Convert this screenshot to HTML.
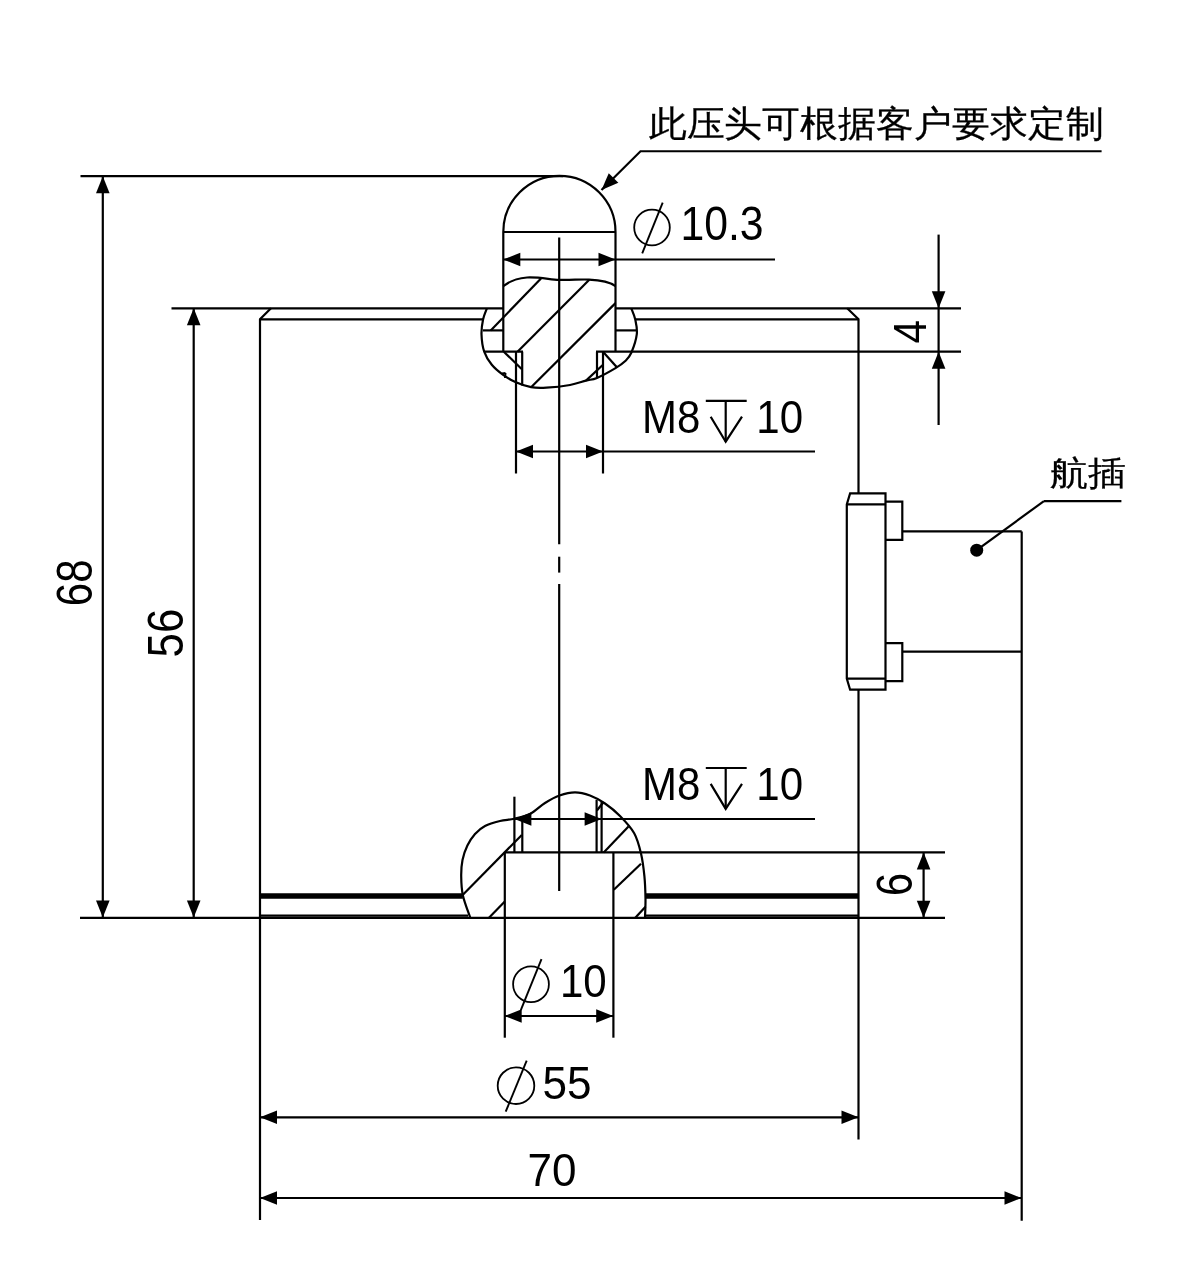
<!DOCTYPE html>
<html><head><meta charset="utf-8"><style>
html,body{margin:0;padding:0;background:#fff;width:1200px;height:1282px;overflow:hidden}
svg{display:block;filter:grayscale(1) blur(0.35px)}
text{font-family:"Liberation Sans",sans-serif;fill:#000;stroke:#fff;stroke-width:1.2px;paint-order:stroke}
text.cjk{stroke:#000;stroke-width:0.3px}
</style></head><body>
<svg width="1200" height="1282" viewBox="0 0 1200 1282">
<rect width="1200" height="1282" fill="#fff"/>
<g stroke="#000" fill="#000" stroke-linecap="butt">
<line x1="80.5" y1="176.2" x2="563" y2="176.2" stroke-width="2.2"/>
<line x1="171.5" y1="308.3" x2="503.3" y2="308.3" stroke-width="2.2"/>
<line x1="615.5" y1="308.3" x2="961" y2="308.3" stroke-width="2.2"/>
<line x1="260" y1="319.3" x2="483" y2="319.3" stroke-width="2.2"/>
<line x1="635.2" y1="319.3" x2="859" y2="319.3" stroke-width="2.2"/>
<path d="M271,308.3 L260,319.3 V1220" fill="none" stroke-width="2.2"/>
<path d="M847.2,308.3 L858.5,319.3 V493" fill="none" stroke-width="2.2"/>
<line x1="858.5" y1="689.3" x2="858.5" y2="1139.6" stroke-width="2.2"/>
<line x1="483" y1="330.4" x2="503.3" y2="330.4" stroke-width="2.2"/>
<line x1="615.5" y1="330.4" x2="636.5" y2="330.4" stroke-width="2.2"/>
<line x1="484" y1="351.7" x2="523" y2="351.7" stroke-width="2.2"/>
<line x1="596" y1="351.7" x2="961" y2="351.7" stroke-width="2.2"/>
<line x1="503.3" y1="232" x2="503.3" y2="351.7" stroke-width="2.2"/>
<line x1="615.5" y1="232" x2="615.5" y2="351.7" stroke-width="2.2"/>
<path d="M503.3,232 A56.1,56.1 0 0 1 615.5,232" fill="none" stroke-width="2.2"/>
<line x1="503.3" y1="232" x2="615.5" y2="232" stroke-width="2.2"/>
<line x1="559.2" y1="237.5" x2="559.2" y2="544.2" stroke-width="2.2"/>
<line x1="559.2" y1="556.7" x2="559.2" y2="572.6" stroke-width="2.2"/>
<line x1="559.2" y1="584" x2="559.2" y2="891" stroke-width="2.2"/>
<line x1="503.3" y1="259.5" x2="775" y2="259.5" stroke-width="2.2"/>
<polygon points="503.30,259.50 520.30,252.70 520.30,266.30" stroke="none"/>
<polygon points="615.50,259.50 598.50,266.30 598.50,252.70" stroke="none"/>
<path d="M503.3,286.2 C510,281 518,278 527,277.5 C540,277 550,279.5 559,279.8 C570,280.2 580,279.2 589,279.6 C600,280 610,282 615.5,286.2" fill="none" stroke-width="2.2"/>
<line x1="516" y1="351.7" x2="516" y2="473.5" stroke-width="2.2"/>
<line x1="522.2" y1="351.7" x2="522.2" y2="385.5" stroke-width="2.2"/>
<line x1="597" y1="351.7" x2="597" y2="378" stroke-width="2.2"/>
<line x1="603" y1="351.7" x2="603" y2="473.5" stroke-width="2.2"/>
<line x1="503.8" y1="351.7" x2="521.9" y2="369.2" stroke-width="2.2"/>
<line x1="603" y1="351.7" x2="617.1" y2="367.5" stroke-width="2.2"/>
<line x1="490.7" y1="330.4" x2="541" y2="278.6" stroke-width="2.2"/>
<line x1="517.5" y1="351.7" x2="589.3" y2="279.7" stroke-width="2.2"/>
<line x1="531.1" y1="387.2" x2="615.5" y2="303.1" stroke-width="2.2"/>
<line x1="586" y1="380.6" x2="603" y2="364.8" stroke-width="2.2"/>
<path d="M486.9,308.3 C486.27,310.13 484.00,314.98 483.1,319.3 C482.20,323.62 481.32,328.80 481.5,334.2 C481.68,339.60 482.48,346.60 484.2,351.7 C485.92,356.80 488.70,360.98 491.8,364.8 C494.90,368.62 498.78,371.68 502.8,374.6 C506.82,377.52 511.18,380.20 515.9,382.3 C520.62,384.40 526.02,386.30 531.1,387.2 C536.18,388.10 539.92,388.07 546.4,387.7 C552.88,387.33 563.40,386.18 570,385 C576.60,383.82 581.50,381.78 586,380.6 C590.50,379.42 592.08,379.98 597,377.9 C601.92,375.82 610.78,370.92 615.5,368.1 C620.22,365.28 622.67,363.55 625.3,361 C627.93,358.45 629.38,357.27 631.3,352.8 C633.22,348.33 636.15,339.78 636.8,334.2 C637.45,328.62 636.12,323.62 635.2,319.3 C634.28,314.98 631.95,310.13 631.3,308.3" fill="none" stroke-width="2.2"/>
<line x1="502" y1="373.5" x2="505.5" y2="373" stroke-width="2"/>
<line x1="505.5" y1="373" x2="505" y2="378" stroke-width="2"/>
<line x1="516" y1="451.5" x2="815" y2="451.5" stroke-width="2.2"/>
<polygon points="516.00,451.50 533.00,444.70 533.00,458.30" stroke="none"/>
<polygon points="603.00,451.50 586.00,458.30 586.00,444.70" stroke="none"/>
<line x1="938.6" y1="234.6" x2="938.6" y2="425" stroke-width="2.2"/>
<polygon points="938.60,308.30 931.80,291.30 945.40,291.30" stroke="none"/>
<polygon points="938.60,351.70 945.40,368.70 931.80,368.70" stroke="none"/>
<path d="M601.5,190 L640.5,151.25 H1101.6" fill="none" stroke-width="2.2"/>
<polygon points="601.50,190.00 608.77,173.19 618.35,182.84" stroke="none"/>
<line x1="102.8" y1="176.2" x2="102.8" y2="917.6" stroke-width="2.2"/>
<polygon points="102.80,176.20 109.60,193.20 96.00,193.20" stroke="none"/>
<polygon points="102.80,917.60 96.00,900.60 109.60,900.60" stroke="none"/>
<line x1="193.7" y1="308.3" x2="193.7" y2="917.6" stroke-width="2.2"/>
<polygon points="193.70,308.30 200.50,325.30 186.90,325.30" stroke="none"/>
<polygon points="193.70,917.60 186.90,900.60 200.50,900.60" stroke="none"/>
<line x1="80" y1="917.8" x2="945" y2="917.8" stroke-width="2.2"/>
<line x1="260" y1="896" x2="462.8" y2="896" stroke-width="5.5"/>
<line x1="645.4" y1="896" x2="858.5" y2="896" stroke-width="5.5"/>
<line x1="260" y1="915.6" x2="468" y2="915.6" stroke-width="2.2"/>
<line x1="645.3" y1="915.6" x2="858.5" y2="915.6" stroke-width="2.2"/>
<line x1="504.8" y1="852.4" x2="504.8" y2="1037.7" stroke-width="2.2"/>
<line x1="613.4" y1="852.4" x2="613.4" y2="1037.7" stroke-width="2.2"/>
<line x1="504.8" y1="852.4" x2="945" y2="852.4" stroke-width="2.2"/>
<line x1="514.4" y1="796.7" x2="514.4" y2="852.4" stroke-width="2.2"/>
<line x1="522.3" y1="820" x2="522.3" y2="852.4" stroke-width="2.2"/>
<line x1="596.6" y1="799.8" x2="596.6" y2="852.4" stroke-width="2.2"/>
<line x1="601.6" y1="802" x2="601.6" y2="852.4" stroke-width="2.2"/>
<line x1="514.4" y1="819" x2="815" y2="819" stroke-width="2.2"/>
<polygon points="514.40,819.00 531.40,812.20 531.40,825.80" stroke="none"/>
<polygon points="601.60,819.00 584.60,825.80 584.60,812.20" stroke="none"/>
<path d="M470.3,917.8 C469.07,914.07 464.42,902.33 462.9,895.4 C461.38,888.47 461.27,882.10 461.2,876.2 C461.13,870.30 461.47,865.10 462.5,860 C463.53,854.90 465.32,849.93 467.4,845.6 C469.48,841.27 472.07,837.27 475,834 C477.93,830.73 480.83,828.17 485,826 C489.17,823.83 495.08,822.22 500,821 C504.92,819.78 509.50,819.87 514.5,818.7 C519.50,817.53 524.92,816.62 530,814 C535.08,811.38 540.08,806.08 545,803 C549.92,799.92 554.50,797.28 559.5,795.5 C564.50,793.72 569.92,792.30 575,792.3 C580.08,792.30 585.00,793.63 590,795.5 C595.00,797.37 600.00,800.08 605,803.5 C610.00,806.92 615.13,811.05 620,816 C624.87,820.95 630.70,826.95 634.2,833.2 C637.70,839.45 639.30,846.33 641,853.5 C642.70,860.67 643.65,868.65 644.4,876.2 C645.15,883.75 645.40,891.87 645.5,898.8 C645.60,905.73 645.08,914.63 645,917.8" fill="none" stroke-width="2.2"/>
<line x1="462.9" y1="894.8" x2="521.8" y2="834.9" stroke-width="2.2"/>
<line x1="489" y1="917.8" x2="504.8" y2="901.6" stroke-width="2.2"/>
<line x1="603.7" y1="852.4" x2="628.5" y2="826.4" stroke-width="2.2"/>
<line x1="613.8" y1="889.8" x2="641" y2="863.7" stroke-width="2.2"/>
<line x1="635.3" y1="917.8" x2="645.5" y2="906.7" stroke-width="2.2"/>
<line x1="596.9" y1="810.5" x2="603.6" y2="802" stroke-width="2.2"/>
<line x1="923.6" y1="852.4" x2="923.6" y2="917.8" stroke-width="2.2"/>
<polygon points="923.60,852.40 930.40,869.40 916.80,869.40" stroke="none"/>
<polygon points="923.60,917.80 916.80,900.80 930.40,900.80" stroke="none"/>
<g transform="translate(0,0.4)">
<path d="M850.1,493 H885.5 V689.3 H850.1 L846.8,678.2 V504 Z" fill="none" stroke-width="2.2"/>
<line x1="846.8" y1="504" x2="885.5" y2="504" stroke-width="2.2"/>
<line x1="846.8" y1="678.2" x2="885.5" y2="678.2" stroke-width="2.2"/>
<path d="M885.5,501.2 H902.3 V539.5 H885.5" fill="none" stroke-width="2.2"/>
<path d="M885.5,642.8 H902.3 V680.8 H885.5" fill="none" stroke-width="2.2"/>
<line x1="902.3" y1="531" x2="1021.7" y2="531" stroke-width="2.2"/>
<line x1="902.3" y1="651.3" x2="1021.7" y2="651.3" stroke-width="2.2"/>
<line x1="1021.7" y1="531" x2="1021.7" y2="1220.4" stroke-width="2.2"/>
<circle cx="976.7" cy="549.8" r="6.5" stroke="none"/>
<line x1="976.7" y1="549.8" x2="1043.9" y2="500.7" stroke-width="2.2"/>
<line x1="1043.9" y1="500.7" x2="1121.4" y2="500.7" stroke-width="2.2"/>
</g>
<line x1="504.7" y1="1016" x2="613.2" y2="1016" stroke-width="2.2"/>
<polygon points="504.70,1016.00 521.70,1009.20 521.70,1022.80" stroke="none"/>
<polygon points="613.20,1016.00 596.20,1022.80 596.20,1009.20" stroke="none"/>
<line x1="260" y1="1117.3" x2="858.5" y2="1117.3" stroke-width="2.2"/>
<polygon points="260.00,1117.30 277.00,1110.50 277.00,1124.10" stroke="none"/>
<polygon points="858.50,1117.30 841.50,1124.10 841.50,1110.50" stroke="none"/>
<line x1="260" y1="1198" x2="1021.5" y2="1198" stroke-width="2.2"/>
<polygon points="260.00,1198.00 277.00,1191.20 277.00,1204.80" stroke="none"/>
<polygon points="1021.50,1198.00 1004.50,1204.80 1004.50,1191.20" stroke="none"/>
<text x="0" y="0" font-size="38" class="cjk" transform="matrix(0.9963 0.0000 0.0000 0.9474 648.6000 136.3158)">此压头可根据客户要求定制</text>
<text x="0" y="0" font-size="38" class="cjk" transform="matrix(0.9878 0.0000 0.0000 0.8842 1049.9122 485.0947)">航插</text>
<circle cx="652" cy="227.5" r="17.8" fill="none" stroke-width="1.8"/>
<line x1="662.7" y1="202.7" x2="642.2" y2="253.3" stroke-width="1.9"/>
<text x="0" y="0" font-size="46" transform="matrix(0.9294 0.0000 0.0000 1.0344 680.4118 240.3000)">10.3</text>
<text x="0" y="0" font-size="46" transform="matrix(0.9119 0.0000 0.0000 1.0156 641.9644 432.5000)">M8</text>
<line x1="705.8" y1="400.8" x2="746.7" y2="400.8" stroke-width="2.2"/>
<line x1="725.7" y1="400.8" x2="725.7" y2="441.7" stroke-width="2.2"/>
<path d="M710.7,416.7 L725.7,441.7 L742,416.7" fill="none" stroke-width="2.2"/>
<text x="0" y="0" font-size="46" transform="matrix(0.9149 0.0000 0.0000 1.0156 756.2553 432.5000)">10</text>
<text x="0" y="0" font-size="46" transform="matrix(0.9119 0.0000 0.0000 1.0156 641.9644 799.7000)">M8</text>
<line x1="705.8" y1="768.0" x2="746.7" y2="768.0" stroke-width="2.2"/>
<line x1="725.7" y1="768.0" x2="725.7" y2="808.9" stroke-width="2.2"/>
<path d="M710.7,783.9 L725.7,808.9 L742,783.9" fill="none" stroke-width="2.2"/>
<text x="0" y="0" font-size="46" transform="matrix(0.9149 0.0000 0.0000 1.0156 756.2553 799.7000)">10</text>
<text x="0" y="0" font-size="46" transform="matrix(0.0000 -0.9167 1.0062 0.0000 925.9000 343.5167)">4</text>
<text x="0" y="0" font-size="46" transform="matrix(0.0000 -0.9146 1.0687 0.0000 91.6000 606.1292)">68</text>
<text x="0" y="0" font-size="46" transform="matrix(0.0000 -0.9500 1.0688 0.0000 182.8000 657.4000)">56</text>
<text x="0" y="0" font-size="46" transform="matrix(0.0000 -0.9045 1.0688 0.0000 912.2000 896.1091)">6</text>
<circle cx="531" cy="984.3" r="17.9" fill="none" stroke-width="1.8"/>
<line x1="541.5" y1="959.2" x2="520.8" y2="1010.2" stroke-width="1.9"/>
<text x="0" y="0" font-size="46" transform="matrix(0.9149 0.0000 0.0000 1.0156 559.9553 996.8000)">10</text>
<circle cx="516" cy="1085.7" r="18.3" fill="none" stroke-width="1.8"/>
<line x1="526.7" y1="1060.7" x2="505.7" y2="1111.7" stroke-width="1.9"/>
<text x="0" y="0" font-size="46" transform="matrix(0.9583 0.0000 0.0000 1.0187 542.5833 1098.8000)">55</text>
<text x="0" y="0" font-size="46" transform="matrix(0.9583 0.0000 0.0000 1.0125 527.5833 1186.2000)">70</text>
</g></svg></body></html>
